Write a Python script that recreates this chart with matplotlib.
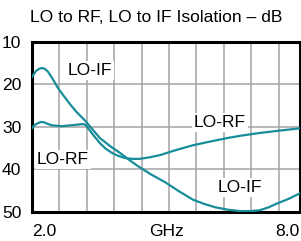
import matplotlib
matplotlib.use("Agg")
import matplotlib.pyplot as plt
import numpy as np

plt.rcParams['font.family'] = ['Liberation Sans', 'DejaVu Sans']

# Data (GHz, isolation dB)
lo_if_freq = [2.0, 2.09, 2.16, 2.22, 2.29, 2.36, 2.46, 2.58, 2.72, 2.85, 3.0, 3.19,
              3.35, 3.52, 3.75, 3.97, 4.17, 4.37, 4.67, 4.98, 5.3, 5.6, 5.85,
              6.1, 6.4, 6.66, 6.9, 7.1, 7.3, 7.49, 7.75, 8.0]
lo_if_db = [18.3, 16.9, 16.4, 16.2, 16.4, 17.1, 18.7, 20.9, 22.9, 24.7, 26.6, 28.6,
            30.6, 32.7, 34.6, 36.2, 37.8, 39.3, 41.3, 43.1, 45.3, 47.2, 48.2,
            49.0, 49.6, 49.9, 49.9, 49.7, 49.0, 48.1, 47.0, 45.7]

lo_rf_freq = [2.0, 2.06, 2.13, 2.2, 2.27, 2.36, 2.45, 2.67, 2.96, 3.14, 3.2, 3.25,
              3.38, 3.52, 3.65, 3.79, 3.93, 4.08, 4.25, 4.42, 4.65, 4.87,
              5.2, 5.6, 6.0, 6.37, 6.7, 7.1, 7.5, 8.0]
lo_rf_db = [30.4, 29.6, 29.2, 28.9, 29.0, 29.4, 29.7, 29.9, 29.6, 29.4, 29.6, 30.3,
            32.1, 33.9, 35.2, 36.2, 36.9, 37.4, 37.6, 37.6, 37.2, 36.7,
            35.6, 34.4, 33.5, 32.7, 32.1, 31.5, 31.0, 30.4]

y_ticks = [10, 20, 30, 40, 50]
x_tick_labels = ['2.0', 'GHz', '8.0']
title = 'LO to RF, LO to IF Isolation \u2013 dB'

teal = '#178c9a'
fs = 12.6

fig = plt.figure(figsize=(3.01, 2.41), dpi=100)
ax = fig.add_axes([32 / 301, (241 - 211.5) / 241, 268 / 301, (211.5 - 41.7) / 241])

ax.plot(lo_if_freq, lo_if_db, color=teal, lw=1.6, zorder=3, solid_joinstyle='round')
ax.plot(lo_rf_freq, lo_rf_db, color=teal, lw=1.6, zorder=3, solid_joinstyle='round')

ax.set_xlim(2.0, 8.0)
ax.set_ylim(50, 10)

# grid
grid_step = 6.0 * 27.4 / 268
ax.set_xticks(2.0 + grid_step * np.arange(1, 10), minor=True)
ax.set_xticks([2.0, 5.0, 8.0])
ax.set_xticklabels(x_tick_labels)
ax.set_yticks(y_ticks)
ax.set_yticklabels([str(v) for v in y_ticks])
ax.grid(True, which='minor', axis='x', color='#a3a3a3', lw=1.1)
ax.grid(True, which='major', axis='y', color='#a3a3a3', lw=1.1)
ax.tick_params(which='both', length=0, labelsize=fs, colors='black')
ax.tick_params(axis='x', pad=9)
xl = ax.get_xticklabels()
xl[0].set_ha('left')
xl[-1].set_ha('right')
for lbl in ax.get_yticklabels():
    lbl.set_ha('left')
    lbl.set_x(-30 / 268)
    lbl.set_transform(ax.get_yaxis_transform())

for s in ax.spines.values():
    s.set_linewidth(2.2)
    s.set_color('black')

box = dict(facecolor='white', edgecolor='none', pad=1.5)
ax.text(3.30, 16.7, 'LO-IF', fontsize=fs, ha='center', va='center', bbox=box, zorder=4)
ax.text(6.21, 29.0, 'LO-RF', fontsize=fs, ha='center', va='center', bbox=box, zorder=4)
ax.text(2.69, 37.7, 'LO-RF', fontsize=fs, ha='center', va='center', bbox=box, zorder=4)
ax.text(6.66, 44.3, 'LO-IF', fontsize=fs, ha='center', va='center', bbox=box, zorder=4)

fig.text(30 / 301, 1 - 18 / 241, title, fontsize=fs, ha='left', va='center')

fig.savefig('out.png', dpi=100)
